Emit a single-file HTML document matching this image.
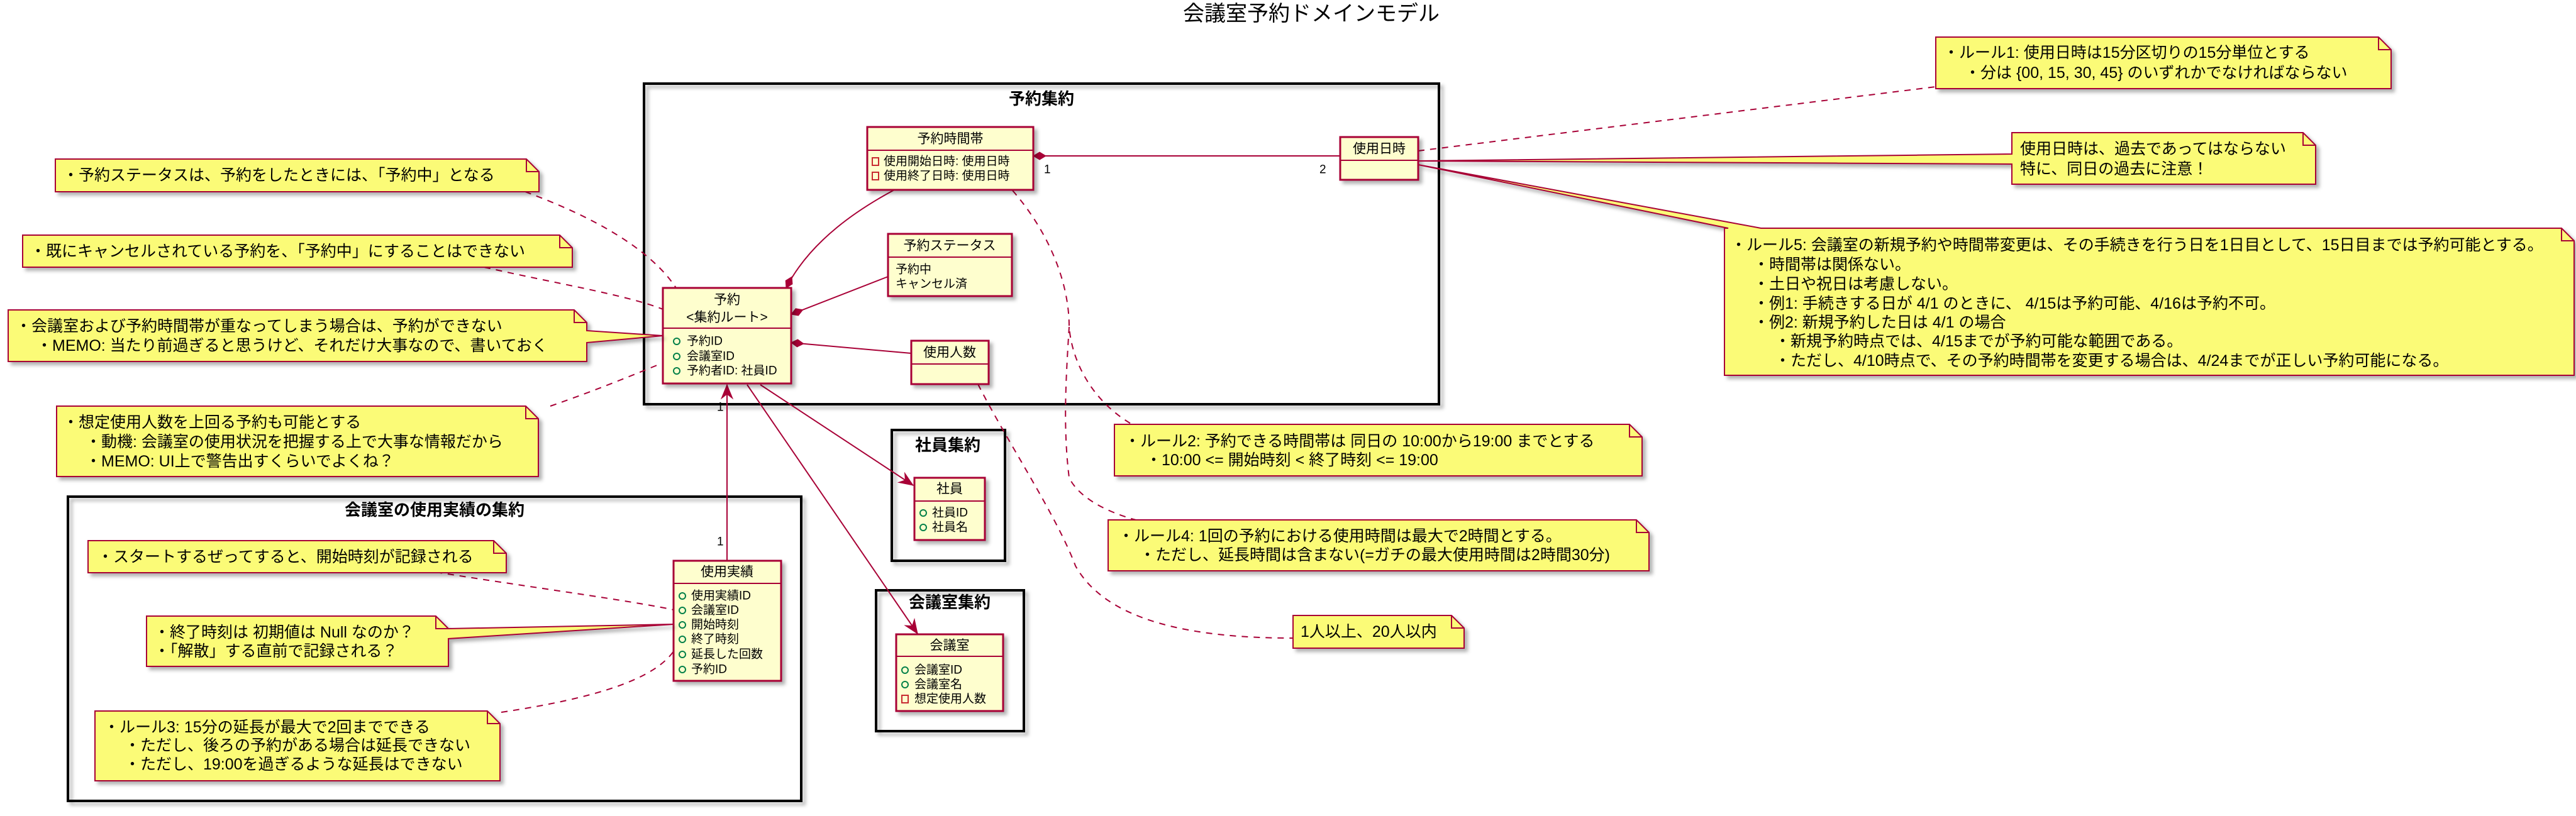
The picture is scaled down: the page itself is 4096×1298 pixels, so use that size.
<!DOCTYPE html>
<html><head><meta charset="utf-8"><style>
html,body{margin:0;padding:0;background:#fff;}
svg{display:block;}
text{font-family:"Liberation Sans","Noto Sans CJK JP",sans-serif;fill:#000;}
.n{font-size:25px;}
.c{font-size:19px;}
.h{font-size:21px;}
.pk{font-size:26px;font-weight:bold;}
.note{fill:#FBFB77;stroke:#A80036;stroke-width:2;}
.cls{fill:#FEFECE;stroke:#A80036;stroke-width:3;}
.pkg{fill:none;stroke:#000;stroke-width:4;}
.dl{fill:none;stroke:#A80036;stroke-width:2;stroke-dasharray:10,9;}
.sl{fill:none;stroke:#A80036;stroke-width:2;}
.fold{fill:none;stroke:#A80036;stroke-width:2;}
.gi{fill:none;stroke:#038048;stroke-width:2;}
.ri{fill:none;stroke:#C82930;stroke-width:2;}
</style></head><body>
<svg width="4096" height="1298" viewBox="0 0 4096 1298" xmlns="http://www.w3.org/2000/svg">
<defs>
<filter id="sh" x="-5%" y="-5%" width="115%" height="130%"><feDropShadow dx="5" dy="5" stdDeviation="3" flood-color="#000" flood-opacity="0.3"/></filter>
<marker id="dia" markerUnits="userSpaceOnUse" markerWidth="24" markerHeight="14" refX="0" refY="7" orient="auto" overflow="visible"><path d="M0,7 L10,1 L20,7 L10,13 Z" fill="#A80036" stroke="#A80036"/></marker>
<marker id="arr" markerUnits="userSpaceOnUse" markerWidth="24" markerHeight="20" refX="22" refY="10" orient="auto" overflow="visible"><path d="M22,10 L0,1 L7,10 L0,19 Z" fill="#A80036" stroke="#A80036"/></marker>
</defs>

<text x="2085" y="22" font-size="34" text-anchor="middle" dominant-baseline="central">会議室予約ドメインモデル</text>

<!-- packages -->
<rect class="pkg" x="1024" y="133" width="1264" height="510" filter="url(#sh)"/>
<text class="pk" x="1656" y="157" text-anchor="middle" dominant-baseline="central">予約集約</text>
<rect class="pkg" x="108" y="790" width="1166" height="484" filter="url(#sh)"/>
<text class="pk" x="691" y="811" text-anchor="middle" dominant-baseline="central">会議室の使用実績の集約</text>
<rect class="pkg" x="1418" y="684" width="180" height="208" filter="url(#sh)"/>
<text class="pk" x="1507" y="708" text-anchor="middle" dominant-baseline="central">社員集約</text>
<rect class="pkg" x="1393" y="939" width="235" height="224" filter="url(#sh)"/>
<text class="pk" x="1510" y="958" text-anchor="middle" dominant-baseline="central">会議室集約</text>

<!-- connectors solid -->
<path class="sl" d="M1250,458 C1290,380 1370,330 1422,302" marker-start="url(#dia)"/>
<path class="sl" d="M1258,500 L1412,440" marker-start="url(#dia)"/>
<path class="sl" d="M1258,545 L1449,562" marker-start="url(#dia)"/>
<path class="sl" d="M1643,248 L2131,248" marker-start="url(#dia)"/>
<text class="c" x="1660" y="270" dominant-baseline="central">1</text>
<text class="c" x="2098" y="270" dominant-baseline="central">2</text>
<path class="sl" d="M1209,612 L1452,772" marker-end="url(#arr)"/>
<path class="sl" d="M1188,612 L1459,1008" marker-end="url(#arr)"/>
<path class="sl" d="M1156,892 L1156,612" marker-end="url(#arr)"/>
<text class="c" x="1140" y="648" dominant-baseline="central">1</text>
<text class="c" x="1140" y="862" dominant-baseline="central">1</text>

<!-- dashed -->
<path class="dl" d="M835,305 C930,340 1030,390 1075,458"/>
<path class="dl" d="M770,425 C880,450 1000,470 1054,492"/>
<path class="dl" d="M875,646 C950,620 1010,595 1052,578"/>
<path class="dl" d="M693,910 C850,935 1000,955 1071,970"/>
<path class="dl" d="M797,1133 C950,1110 1040,1080 1071,1036"/>
<path class="dl" d="M2255,240 L3078,138"/>
<path class="dl" d="M1610,303 C1660,360 1700,440 1700,520 C1705,580 1740,640 1800,675"/>
<path class="dl" d="M1700,520 C1695,600 1690,680 1700,760 C1720,800 1780,820 1806,827"/>
<path class="dl" d="M1555,611 C1600,700 1680,820 1710,900 C1760,990 1900,1015 2056,1015"/>

<!-- classes -->
<g filter="url(#sh)">
<rect class="cls" x="1379" y="202" width="264" height="100"/>
<rect class="cls" x="2131" y="218" width="124" height="68"/>
<rect class="cls" x="1412" y="372" width="197" height="99"/>
<rect class="cls" x="1054" y="458" width="204" height="152"/>
<rect class="cls" x="1449" y="542" width="123" height="69"/>
<rect class="cls" x="1454" y="760" width="112" height="99"/>
<rect class="cls" x="1425" y="1009" width="170" height="122"/>
<rect class="cls" x="1071" y="892" width="171" height="191"/>
</g>
<g class="sl" stroke-width="3">
<line x1="1379" y1="239" x2="1643" y2="239"/>
<line x1="2131" y1="255" x2="2255" y2="255"/>
<line x1="1412" y1="409" x2="1609" y2="409"/>
<line x1="1054" y1="522" x2="1258" y2="522"/>
<line x1="1449" y1="579" x2="1572" y2="579"/>
<line x1="1454" y1="797" x2="1566" y2="797"/>
<line x1="1425" y1="1044" x2="1595" y2="1044"/>
<line x1="1071" y1="928" x2="1242" y2="928"/>
</g>
<text class="h" x="1511" y="221" text-anchor="middle" dominant-baseline="central">予約時間帯</text>
<rect class="ri" x="1387" y="251" width="10" height="12"/><text class="c" x="1405" y="257" dominant-baseline="central">使用開始日時: 使用日時</text>
<rect class="ri" x="1387" y="274" width="10" height="12"/><text class="c" x="1405" y="280" dominant-baseline="central">使用終了日時: 使用日時</text>
<text class="h" x="2193" y="237" text-anchor="middle" dominant-baseline="central">使用日時</text>
<text class="h" x="1510" y="391" text-anchor="middle" dominant-baseline="central">予約ステータス</text>
<text class="c" x="1424" y="429" dominant-baseline="central">予約中</text>
<text class="c" x="1424" y="452" dominant-baseline="central">キャンセル済</text>
<text class="h" x="1156" y="477" text-anchor="middle" dominant-baseline="central">予約</text>
<text class="h" x="1156" y="505" text-anchor="middle" dominant-baseline="central">&lt;集約ルート&gt;</text>
<circle class="gi" cx="1076" cy="543" r="5"/><text class="c" x="1092" y="543" dominant-baseline="central">予約ID</text>
<circle class="gi" cx="1076" cy="567" r="5"/><text class="c" x="1092" y="567" dominant-baseline="central">会議室ID</text>
<circle class="gi" cx="1076" cy="590" r="5"/><text class="c" x="1092" y="590" dominant-baseline="central">予約者ID: 社員ID</text>
<text class="h" x="1510" y="561" text-anchor="middle" dominant-baseline="central">使用人数</text>
<text class="h" x="1510" y="778" text-anchor="middle" dominant-baseline="central">社員</text>
<circle class="gi" cx="1468" cy="816" r="5"/><text class="c" x="1482" y="816" dominant-baseline="central">社員ID</text>
<circle class="gi" cx="1468" cy="839" r="5"/><text class="c" x="1482" y="839" dominant-baseline="central">社員名</text>
<text class="h" x="1510" y="1027" text-anchor="middle" dominant-baseline="central">会議室</text>
<circle class="gi" cx="1439" cy="1066" r="5"/><text class="c" x="1454" y="1066" dominant-baseline="central">会議室ID</text>
<circle class="gi" cx="1439" cy="1089" r="5"/><text class="c" x="1454" y="1089" dominant-baseline="central">会議室名</text>
<rect class="ri" x="1434" y="1106" width="10" height="12"/><text class="c" x="1454" y="1112" dominant-baseline="central">想定使用人数</text>
<text class="h" x="1156" y="910" text-anchor="middle" dominant-baseline="central">使用実績</text>
<circle class="gi" cx="1085" cy="948" r="5"/><text class="c" x="1099" y="948" dominant-baseline="central">使用実績ID</text>
<circle class="gi" cx="1085" cy="971" r="5"/><text class="c" x="1099" y="971" dominant-baseline="central">会議室ID</text>
<circle class="gi" cx="1085" cy="994" r="5"/><text class="c" x="1099" y="994" dominant-baseline="central">開始時刻</text>
<circle class="gi" cx="1085" cy="1017" r="5"/><text class="c" x="1099" y="1017" dominant-baseline="central">終了時刻</text>
<circle class="gi" cx="1085" cy="1041" r="5"/><text class="c" x="1099" y="1041" dominant-baseline="central">延長した回数</text>
<circle class="gi" cx="1085" cy="1065" r="5"/><text class="c" x="1099" y="1065" dominant-baseline="central">予約ID</text>

<!-- notes -->
<g filter="url(#sh)">
<path class="note" d="M88,253 L837,253 L857,273 L857,305 L88,305 Z"/>
<path class="note" d="M36,374 L890,374 L910,394 L910,425 L36,425 Z"/>
<path class="note" d="M13,493 L913,493 L933,513 L933,526 L1054,534 L933,545 L933,575 L13,575 Z"/>
<path class="note" d="M90,646 L836,646 L856,666 L856,758 L90,758 Z"/>
<path class="note" d="M140,860 L785,860 L805,880 L805,911 L140,911 Z"/>
<path class="note" d="M233,980 L693,980 L713,1000 L1071,993 L713,1016 L713,1060 L233,1060 Z"/>
<path class="note" d="M151,1131 L775,1131 L795,1151 L795,1242 L151,1242 Z"/>
<path class="note" d="M3078,59 L3782,59 L3802,79 L3802,141 L3078,141 Z"/>
<path class="note" d="M3199,211 L3662,211 L3682,231 L3682,293 L3199,293 L3199,261 L2255,256 L3199,245 Z"/>
<path class="note" d="M2742,363 L2748,363 L2255,262 L2800,363 L4073,363 L4093,383 L4093,597 L2742,597 Z"/>
<path class="note" d="M1772,675 L2591,675 L2611,695 L2611,757 L1772,757 Z"/>
<path class="note" d="M1762,827 L2602,827 L2622,847 L2622,908 L1762,908 Z"/>
<path class="note" d="M2056,979 L2308,979 L2328,999 L2328,1031 L2056,1031 Z"/>
</g>
<g class="fold">
<path d="M837,253 L837,273 L857,273"/>
<path d="M890,374 L890,394 L910,394"/>
<path d="M913,493 L913,513 L933,513"/>
<path d="M836,646 L836,666 L856,666"/>
<path d="M785,860 L785,880 L805,880"/>
<path d="M693,980 L693,1000 L713,1000"/>
<path d="M775,1131 L775,1151 L795,1151"/>
<path d="M3782,59 L3782,79 L3802,79"/>
<path d="M3662,211 L3662,231 L3682,231"/>
<path d="M4073,363 L4073,383 L4093,383"/>
<path d="M2591,675 L2591,695 L2611,695"/>
<path d="M2602,827 L2602,847 L2622,847"/>
<path d="M2308,979 L2308,999 L2328,999"/>
</g>

<text class="n" x="100" y="279" dominant-baseline="central">・予約ステータスは、予約をしたときには、「予約中」となる</text>
<text class="n" x="48" y="400" dominant-baseline="central">・既にキャンセルされている予約を、「予約中」にすることはできない</text>
<text class="n" x="25" y="519" dominant-baseline="central">・会議室および予約時間帯が重なってしまう場合は、予約ができない</text>
<text class="n" x="58" y="550" dominant-baseline="central">・MEMO: 当たり前過ぎると思うけど、それだけ大事なので、書いておく</text>
<text class="n" x="100" y="672" dominant-baseline="central">・想定使用人数を上回る予約も可能とする</text>
<text class="n" x="136" y="703" dominant-baseline="central">・動機: 会議室の使用状況を把握する上で大事な情報だから</text>
<text class="n" x="136" y="734" dominant-baseline="central">・MEMO: UI上で警告出すくらいでよくね？</text>
<text class="n" x="155" y="886" dominant-baseline="central">・スタートするぜってすると、開始時刻が記録される</text>
<text class="n" x="245" y="1006" dominant-baseline="central">・終了時刻は 初期値は Null なのか？</text>
<text class="n" x="245" y="1036" dominant-baseline="central">・「解散」する直前で記録される？</text>
<text class="n" x="165" y="1157" dominant-baseline="central">・ルール3: 15分の延長が最大で2回までできる</text>
<text class="n" x="198" y="1186" dominant-baseline="central">・ただし、後ろの予約がある場合は延長できない</text>
<text class="n" x="198" y="1216" dominant-baseline="central">・ただし、19:00を過ぎるような延長はできない</text>
<text class="n" x="3090" y="84" dominant-baseline="central">・ルール1: 使用日時は15分区切りの15分単位とする</text>
<text class="n" x="3124" y="116" dominant-baseline="central">・分は {00, 15, 30, 45} のいずれかでなければならない</text>
<text class="n" x="3212" y="237" dominant-baseline="central">使用日時は、過去であってはならない</text>
<text class="n" x="3212" y="269" dominant-baseline="central">特に、同日の過去に注意！</text>
<text class="n" x="2752" y="390" dominant-baseline="central">・ルール5: 会議室の新規予約や時間帯変更は、その手続きを行う日を1日目として、15日目までは予約可能とする。</text>
<text class="n" x="2788" y="421" dominant-baseline="central">・時間帯は関係ない。</text>
<text class="n" x="2788" y="452" dominant-baseline="central">・土日や祝日は考慮しない。</text>
<text class="n" x="2788" y="483" dominant-baseline="central">・例1: 手続きする日が 4/1 のときに、 4/15は予約可能、4/16は予約不可。</text>
<text class="n" x="2788" y="513" dominant-baseline="central">・例2: 新規予約した日は 4/1 の場合</text>
<text class="n" x="2822" y="543" dominant-baseline="central">・新規予約時点では、4/15までが予約可能な範囲である。</text>
<text class="n" x="2822" y="574" dominant-baseline="central">・ただし、4/10時点で、その予約時間帯を変更する場合は、4/24までが正しい予約可能になる。</text>
<text class="n" x="1788" y="702" dominant-baseline="central">・ルール2: 予約できる時間帯は 同日の 10:00から19:00 までとする</text>
<text class="n" x="1822" y="732" dominant-baseline="central">・10:00 &lt;= 開始時刻 &lt; 終了時刻 &lt;= 19:00</text>
<text class="n" x="1778" y="853" dominant-baseline="central">・ルール4: 1回の予約における使用時間は最大で2時間とする。</text>
<text class="n" x="1812" y="883" dominant-baseline="central">・ただし、延長時間は含まない(=ガチの最大使用時間は2時間30分)</text>
<text class="n" x="2068" y="1005" dominant-baseline="central">1人以上、20人以内</text>
</svg>
</body></html>
